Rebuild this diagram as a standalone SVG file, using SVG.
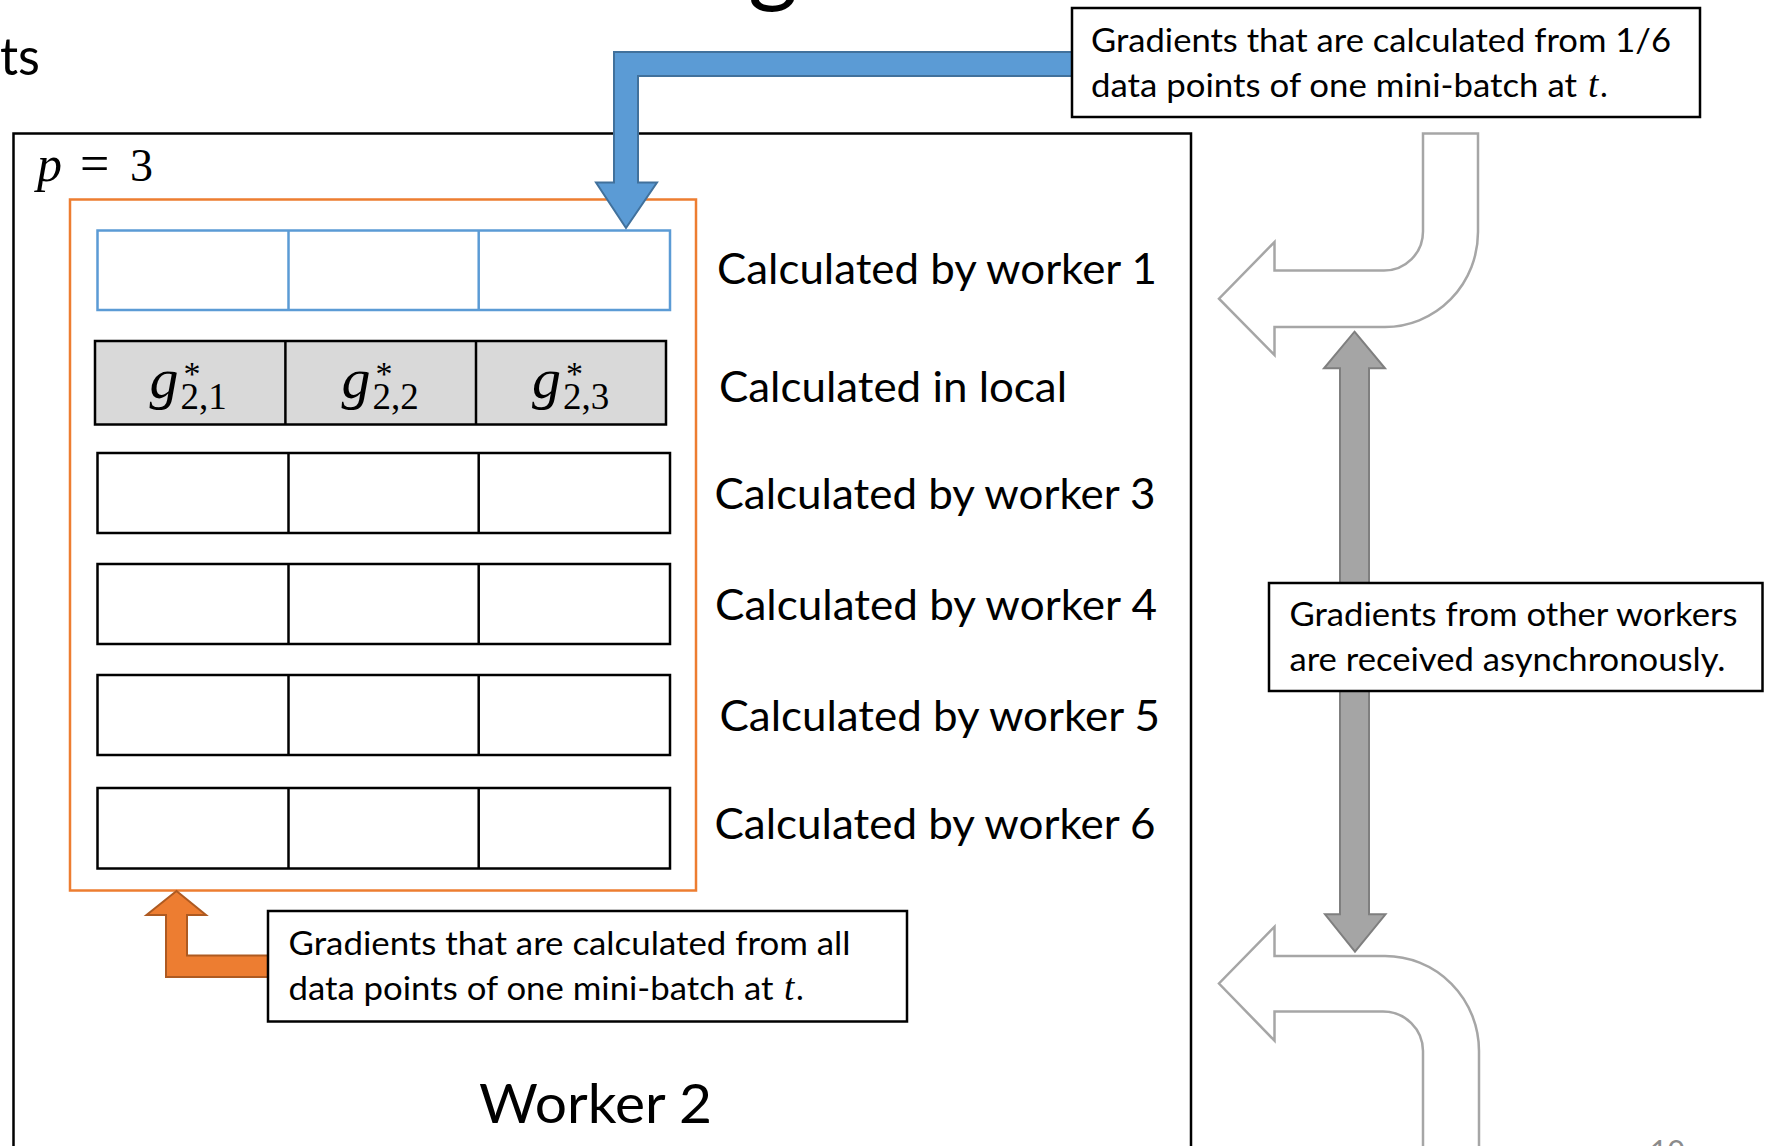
<svg xmlns="http://www.w3.org/2000/svg" width="1775" height="1146" viewBox="0 0 1775 1146">
<style>
  .sans { font-family: Lato, "Open Sans", "Liberation Sans", sans-serif; fill: #000; }
  .lbl { font-size: 42px; }
  .call { font-size: 33px; }
  .math { font-family: "Liberation Serif", "DejaVu Serif", serif; fill: #000; }
  .it { font-style: italic; }
  .cell { fill: #fff; stroke: #000; stroke-width: 2.5; }
  .div { stroke: #000; stroke-width: 2.5; }
  .bluecell { fill: #fff; stroke: #5B9BD5; stroke-width: 2.5; }
  .bluediv { stroke: #5B9BD5; stroke-width: 2.5; }
  .graycell { fill: #D9D9D9; stroke: #000; stroke-width: 2.5; }
  .box { fill: #fff; stroke: #000; stroke-width: 2.5; }
  .uturn { fill: #fff; stroke: #A6A6A6; stroke-width: 2.5; stroke-linejoin: miter; }
  .gsym { font-size: 58px; font-style: italic; }
  .gstar { font-size: 34px; }
  .gsub { font-size: 37px; }
</style>
<rect width="1775" height="1146" fill="#fff"/>

<!-- partial slide title fragments -->
<text class="sans" x="40" y="75" font-size="52" text-anchor="end" textLength="40" lengthAdjust="spacingAndGlyphs">ts</text>
<text class="sans" x="748" y="-6" font-size="96">g</text>

<!-- Worker 2 container -->
<g id="worker2">
  <rect x="13.5" y="133.5" width="1177.5" height="1100" fill="#fff" stroke="#000" stroke-width="2.5"/>
  <text class="math" y="181" font-size="46"><tspan class="it" x="37" font-size="50">p</tspan><tspan x="80" font-size="52">=</tspan><tspan x="130">3</tspan></text>
  <text class="sans" x="479" y="1123" font-size="55" textLength="233" lengthAdjust="spacingAndGlyphs">Worker 2</text>
</g>

<g id="minibatch">
  <rect x="70" y="199.5" width="626" height="691" fill="none" stroke="#ED7D31" stroke-width="2.5"/>
</g>

<g id="row1">
  <rect class="bluecell" x="97.5" y="230.5" width="572.5" height="79.5"/>
  <line class="bluediv" x1="288.5" y1="230.5" x2="288.5" y2="310"/>
  <line class="bluediv" x1="478.7" y1="230.5" x2="478.7" y2="310"/>
</g>
<g id="row2">
  <rect class="graycell" x="95" y="341" width="571" height="83.5"/>
  <line class="div" x1="285.4" y1="341" x2="285.4" y2="424.5"/>
  <line class="div" x1="476" y1="341" x2="476" y2="424.5"/>
  <text class="math" x="149.5" y="398"><tspan class="gsym">g</tspan><tspan class="gstar" dx="5" dy="-13">*</tspan><tspan class="gsub" dx="-20" dy="24">2,1</tspan></text>
  <text class="math" x="341.5" y="398"><tspan class="gsym">g</tspan><tspan class="gstar" dx="5" dy="-13">*</tspan><tspan class="gsub" dx="-20" dy="24">2,2</tspan></text>
  <text class="math" x="532" y="398"><tspan class="gsym">g</tspan><tspan class="gstar" dx="5" dy="-13">*</tspan><tspan class="gsub" dx="-20" dy="24">2,3</tspan></text>
</g>
<g id="row3">
  <rect class="cell" x="97.5" y="453" width="572.5" height="80"/>
  <line class="div" x1="288.5" y1="453" x2="288.5" y2="533"/>
  <line class="div" x1="478.7" y1="453" x2="478.7" y2="533"/>
</g>
<g id="row4">
  <rect class="cell" x="97.5" y="564" width="572.5" height="80"/>
  <line class="div" x1="288.5" y1="564" x2="288.5" y2="644"/>
  <line class="div" x1="478.7" y1="564" x2="478.7" y2="644"/>
</g>
<g id="row5">
  <rect class="cell" x="97.5" y="675" width="572.5" height="80"/>
  <line class="div" x1="288.5" y1="675" x2="288.5" y2="755"/>
  <line class="div" x1="478.7" y1="675" x2="478.7" y2="755"/>
</g>
<g id="row6">
  <rect class="cell" x="97.5" y="788" width="572.5" height="80.5"/>
  <line class="div" x1="288.5" y1="788" x2="288.5" y2="868.5"/>
  <line class="div" x1="478.7" y1="788" x2="478.7" y2="868.5"/>
</g>

<g id="labels" class="sans lbl">
  <text x="717" y="284" textLength="440" lengthAdjust="spacingAndGlyphs">Calculated by worker 1</text>
  <text x="719" y="402" textLength="348" lengthAdjust="spacingAndGlyphs">Calculated in local</text>
  <text x="714.5" y="509" textLength="441" lengthAdjust="spacingAndGlyphs">Calculated by worker 3</text>
  <text x="715" y="620" textLength="442" lengthAdjust="spacingAndGlyphs">Calculated by worker 4</text>
  <text x="719.5" y="731" textLength="440.5" lengthAdjust="spacingAndGlyphs">Calculated by worker 5</text>
  <text x="714.5" y="839" textLength="441" lengthAdjust="spacingAndGlyphs">Calculated by worker 6</text>
</g>

<g id="connectors">
  <path id="blue-arrow" d="M626,228 L657,182.5 L638,182.5 L638,76 L1072,76 L1072,52 L614,52 L614,182.5 L596,182.5 Z" fill="#5B9BD5" stroke="#41719C" stroke-width="2" stroke-linejoin="miter"/>
  <path id="orange-arrow" d="M176.5,891 L206,915 L187,915 L187,955.5 L268,955.5 L268,977 L166,977 L166,915 L146.5,915 Z" fill="#ED7D31" stroke="#AE5A21" stroke-width="2" stroke-linejoin="miter"/>
  <path id="uturn-top" class="uturn" d="M1423,133.5 L1478,133.5 L1478,232 A93 95 0 0 1 1385,327 L1274.5,327 L1274.5,355 L1219,298.7 L1274.5,242 L1274.5,270.5 L1384,270.5 A39 39 0 0 0 1423,231.5 Z"/>
  <path id="uturn-bottom" class="uturn" d="M1274.5,926.7 L1274.5,956 L1385,956 A94 95 0 0 1 1479,1051 L1479,1170 L1423,1170 L1423,1051 A40 39.5 0 0 0 1383,1011.5 L1274.5,1011.5 L1274.5,1040.7 L1219,983.5 Z"/>
  <path id="gray-double-arrow" d="M1354.5,331.7 L1385,368.3 L1369,368.3 L1369,914.3 L1385.5,914.3 L1355,951.7 L1325,914.3 L1340,914.3 L1340,368.3 L1324,368.3 Z" fill="#A5A5A5" stroke="#7F7F7F" stroke-width="2" stroke-linejoin="miter"/>
</g>

<g id="callout-partial">
  <rect class="box" x="1072" y="8" width="628" height="109"/>
  <text class="sans call" x="1091" y="52" textLength="580" lengthAdjust="spacingAndGlyphs">Gradients that are calculated from 1/6</text>
  <text class="sans call" x="1091" y="97"><tspan textLength="486" lengthAdjust="spacingAndGlyphs">data points of one mini-batch at</tspan><tspan class="math it" x="1588" font-size="37">t</tspan><tspan x="1600">.</tspan></text>
</g>

<g id="callout-all">
  <rect class="box" x="268" y="911" width="639" height="110.5"/>
  <text class="sans call" x="288.5" y="955" textLength="562" lengthAdjust="spacingAndGlyphs">Gradients that are calculated from all</text>
  <text class="sans call" x="288.5" y="1000"><tspan textLength="485" lengthAdjust="spacingAndGlyphs">data points of one mini-batch at</tspan><tspan class="math it" x="784" font-size="37">t</tspan><tspan x="796">.</tspan></text>
</g>

<g id="callout-async">
  <rect class="box" x="1269" y="583" width="493.5" height="108"/>
  <text class="sans call" x="1289.5" y="626" textLength="448" lengthAdjust="spacingAndGlyphs">Gradients from other workers</text>
  <text class="sans call" x="1289.5" y="671" textLength="436" lengthAdjust="spacingAndGlyphs">are received asynchronously.</text>
</g>

<text class="sans" x="1650" y="1162" font-size="30" style="fill:#8B8B8B">10</text>
</svg>
